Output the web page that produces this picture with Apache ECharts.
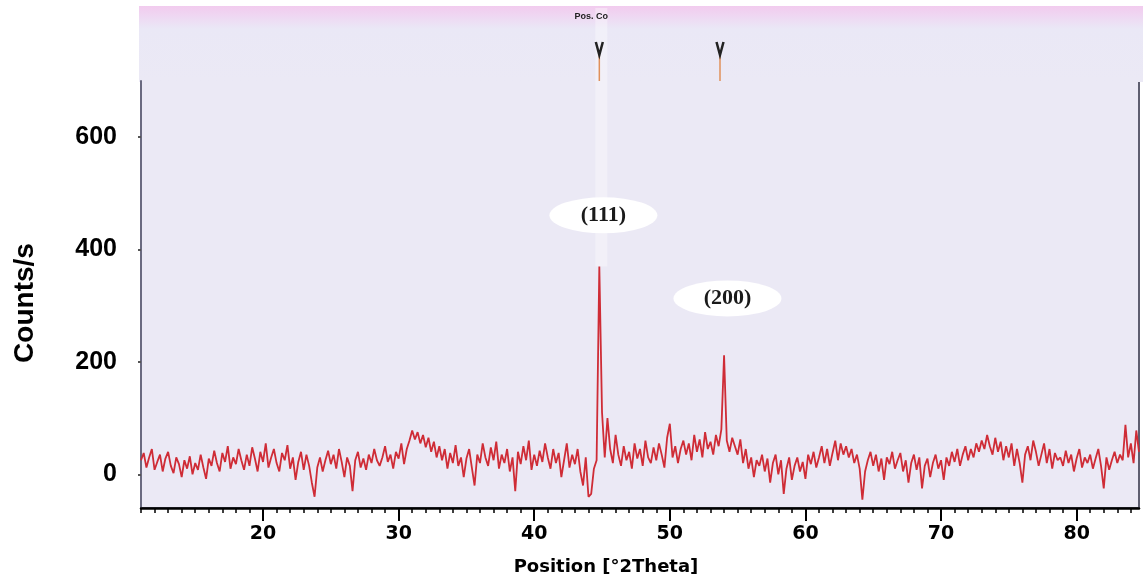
<!DOCTYPE html>
<html><head><meta charset="utf-8">
<script src="https://cdn.jsdelivr.net/npm/echarts@6/dist/echarts.min.js"></script>
<style>html,body{margin:0;padding:0;background:#fff}#c{width:1143px;height:579px}</style>
</head><body><div id="c"></div>
<script>
// ---- data ----
const thetaStart = 11.0;   // first scan position, °2Theta
const thetaStep = 0.2;     // scan step, °2Theta
const counts = [
  25, 38, 12, 30, 45, 8, 22, 35, 5, 28,        // 11.0 - 12.8
  40, 15, 2, 30, 18, -5, 25, 10, 32, 0,        // 13.0 - 14.8
  20, 8, 35, 12, -8, 28, 15, 42, 20, 5,        // 15.0 - 16.8
  38, 22, 50, 10, 30, 18, 45, 25, 8, 35,       // 17.0 - 18.8
  15, 48, 28, 5, 40, 22, 55, 12, 30, 45,       // 19.0 - 20.8
  20, 5, 38, 25, 52, 10, 30, -10, 22, 40,      // 21.0 - 22.8
  8, 35, 15, -15, -40, 12, 30, 5, 25, 42,      // 23.0 - 24.8
  18, 35, 10, 45, 22, -5, 30, 15, -30, 25,     // 25.0 - 26.8
  40, 12, 28, 8, 35, 20, 45, 25, 15, 30,       // 27.0 - 28.8
  50, 22, 35, 10, 40, 28, 55, 18, 45, 60,      // 29.0 - 30.8
  78, 62, 75, 55, 70, 48, 65, 40, 58, 30,      // 31.0 - 32.8
  50, 25, 45, 10, 38, 20, 52, 15, 30, -5,      // 33.0 - 34.8
  28, 45, 12, -20, 35, 20, 55, 30, 15, 48,     // 35.0 - 36.8
  25, 58, 10, 35, 20, 45, 5, 30, -30, 40,      // 37.0 - 38.8
  18, 50, 25, 60, 8, 35, 15, 42, 22, 55,       // 39.0 - 40.8
  30, 10, 45, 20, 38, -5, 25, 55, 12, 35,      // 41.0 - 42.8
  18, 45, 5, -20, 30, -40, -35, 10, 25, 370,   // 43.0 - 44.8  (111)
  110, 30, 100, 45, 20, 70, 35, 15, 50, 25,    // 45.0 - 46.8
  40, 10, 55, 28, 45, 15, 60, 30, 20, 48,      // 47.0 - 48.8
  25, 55, 35, 12, 65, 90, 30, 50, 20, 45,      // 49.0 - 50.8
  60, 35, 55, 25, 70, 40, 62, 30, 75, 45,      // 51.0 - 52.8
  58, 35, 70, 50, 80, 212, 60, 40, 65, 50,     // 53.0 - 54.8  (200)
  35, 62, 20, 45, 10, 30, -5, 25, 15, 35,      // 55.0 - 56.8
  5, 28, -15, 20, 35, 0, 25, -35, 10, 30,      // 57.0 - 58.8
  -10, 15, 30, 5, 22, -8, 35, 18, 40, 12,      // 59.0 - 60.8
  30, 50, 20, 45, 15, 38, 60, 25, 55, 35,      // 61.0 - 62.8
  50, 30, 45, 20, 35, 10, -45, 5, 25, 40,      // 63.0 - 64.8
  15, 35, 5, 28, -10, 30, 18, 40, 10, 25,      // 65.0 - 66.8
  38, 5, 25, -15, 20, 35, 8, 30, -25, 15,      // 67.0 - 68.8
  28, -5, 20, 35, 10, 25, -10, 30, 15, 40,     // 69.0 - 70.8
  22, 45, 15, 35, 50, 25, 45, 30, 55, 40,      // 71.0 - 72.8
  60, 45, 70, 50, 35, 65, 40, 58, 25, 50,      // 73.0 - 74.8
  30, 55, 15, 45, 20, -15, 35, 50, 25, 60,     // 75.0 - 76.8
  40, 15, 35, 55, 20, 45, 10, 38, 25, 30,      // 77.0 - 78.8
  15, 42, 20, 35, 5, 28, 45, 12, 30, 20,       // 79.0 - 80.8
  35, 10, 28, 45, 15, -25, 30, 8, 25, 40,      // 81.0 - 82.8
  20, 35, 25, 88, 30, 55, 20, 78, 40           // 83.0 - 84.6
];
const xTickLabels = [20, 30, 40, 50, 60, 70, 80];
const xMinorTicks = [11,12,13,14,15,16,17,18,19,21,22,23,24,25,26,27,28,29,31,32,33,34,35,36,37,38,39,
  41,42,43,44,45,46,47,48,49,51,52,53,54,55,56,57,58,59,61,62,63,64,65,66,67,68,69,
  71,72,73,74,75,76,77,78,79,81,82,83,84];
const yTickLabels = [0, 200, 400, 600];
const peakNames = ['(111)', '(200)'];
const peakLabelTheta = [45.1, 54.25];
const peakLabelCounts = [461, 313];
const refName = 'Pos. Co';
const refPositions = [44.8, 53.7];
const xTitle = 'Position [°2Theta]';
const yTitle = 'Counts/s';

// ---- chart ----
const chart = echarts.init(document.getElementById('c'), null, {renderer: 'canvas'});
const seriesData = counts.map((v, i) => [+(thetaStart + i * thetaStep).toFixed(2), v]);
const markData = peakNames.map((n, i) => ({name: n, coord: [peakLabelTheta[i], peakLabelCounts[i]]}));

chart.setOption({
  animation: false,
  backgroundColor: '#ffffff',
  grid: {left: 141, top: 81, width: 998, height: 427, show: true,
    backgroundColor: '#ebe9f5', borderColor: '#5e5e70', borderWidth: 2},
  xAxis: [{
    type: 'value', min: 11, max: 84.6, position: 'bottom',
    axisLine: {show: true, onZero: false, lineStyle: {color: '#000', width: 2.5}},
    axisTick: {show: true, customValues: xTickLabels, length: 13, lineStyle: {color: '#000', width: 2}},
    axisLabel: {show: true, customValues: xTickLabels, margin: 17, color: '#000',
      fontFamily: 'DejaVu Sans', fontWeight: 'bold', fontSize: 19},
    splitLine: {show: false}
  }, {
    type: 'value', min: 11, max: 84.6, position: 'bottom', offset: 0,
    axisLine: {show: false, onZero: false},
    axisTick: {show: true, customValues: xMinorTicks, length: 5, lineStyle: {color: '#000', width: 1.5}},
    axisLabel: {show: false},
    splitLine: {show: false}
  }],
  yAxis: {
    type: 'value', min: -60, max: 700,
    axisLine: {show: true, onZero: false, lineStyle: {color: '#6a6a80', width: 2}},
    axisTick: {show: true, customValues: yTickLabels, length: 3, lineStyle: {color: '#555', width: 2}},
    axisLabel: {show: true, customValues: yTickLabels, margin: 24, color: '#000',
      fontFamily: 'Liberation Sans', fontWeight: 'bold', fontSize: 25, padding: [8, 0, 0, 0]},
    splitLine: {show: false}
  },
  series: [{
    type: 'line', data: seriesData, showSymbol: false, z: 3,
    lineStyle: {color: '#cf2c36', width: 1.8},
    markPoint: {
      symbol: 'circle', symbolSize: [108, 36],
      itemStyle: {color: 'rgba(255,255,255,0.96)'},
      label: {show: true, position: 'inside', formatter: '{b}', color: '#1a1a1a',
        fontFamily: 'Liberation Serif', fontWeight: 'bold', fontSize: 22},
      data: markData
    }
  }]
});

// decorations placed through the axis scale
const g = [];
g.push({type: 'rect', shape: {x: 139, y: 6, width: 1004, height: 76}, z: 0,
  style: {fill: new echarts.graphic.LinearGradient(0, 0, 0, 1, [
    {offset: 0, color: '#f2cbee'}, {offset: 0.12, color: '#efd6f2'}, {offset: 0.3, color: '#eae8f6'}, {offset: 1, color: '#ebe9f5'}])}});
const streakX = chart.convertToPixel({xAxisIndex: 0}, refPositions[0]);
const streakBottom = chart.convertToPixel({yAxisIndex: 0}, 370);
g.push({type: 'rect', shape: {x: streakX - 4, y: 8, width: 12, height: streakBottom - 8}, z: 1,
  style: {fill: 'rgba(255,255,255,0.35)'}});
g.push({type: 'text', x: streakX - 8, y: 17, z: 5,
  style: {text: refName, font: 'bold 9px "Liberation Sans"', fill: '#222', align: 'center', verticalAlign: 'middle'}});
refPositions.forEach(p => {
  const px = chart.convertToPixel({xAxisIndex: 0}, p);
  g.push({type: 'line', shape: {x1: px, y1: 54, x2: px, y2: 81}, z: 5,
    style: {stroke: '#e0905a', lineWidth: 1.5}});
  g.push({type: 'polyline', shape: {points: [[px - 3.5, 42], [px, 55], [px + 3.5, 42]]}, z: 6,
    style: {stroke: '#222', lineWidth: 2.5, fill: null}});
});
g.push({type: 'text', x: 25, y: 303, rotation: Math.PI / 2, z: 5,
  style: {text: yTitle, font: 'bold 28px "Liberation Sans"', fill: '#000', align: 'center', verticalAlign: 'middle'}});
g.push({type: 'text', x: 606, y: 567, z: 5,
  style: {text: xTitle, font: 'bold 18px "DejaVu Sans"', fill: '#000', align: 'center', verticalAlign: 'middle'}});
chart.setOption({graphic: g});
</script>
</body></html>
